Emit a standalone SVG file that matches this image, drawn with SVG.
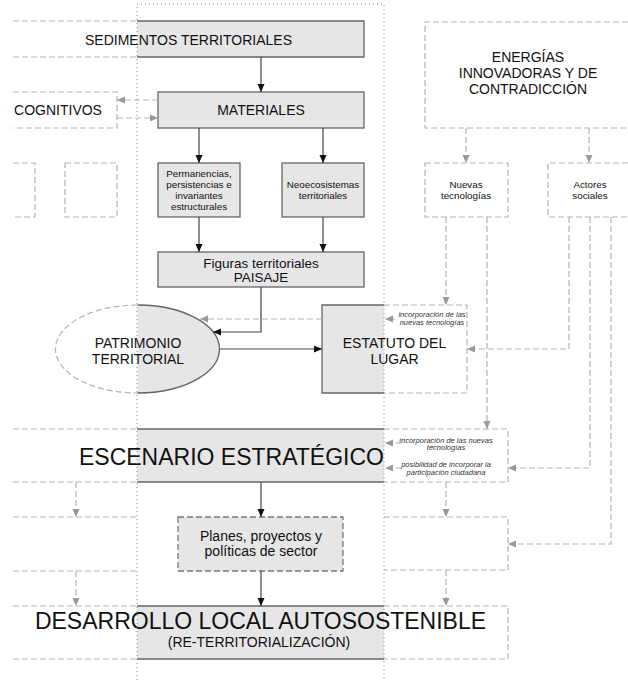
<svg xmlns="http://www.w3.org/2000/svg" width="628" height="680" viewBox="0 0 628 680">
<style>
text{font-family:"Liberation Sans",Arial,sans-serif;fill:#111;text-anchor:middle}
.g{fill:#e6e6e6;stroke:none}
.s{fill:none;stroke:#666;stroke-width:1.3}
.d{fill:none;stroke:#b3b3b3;stroke-width:1.2;stroke-dasharray:6,3}
.dd{fill:none;stroke:#777;stroke-width:1.3;stroke-dasharray:6,3}
.dot{fill:none;stroke:#888;stroke-width:1;stroke-dasharray:1,3}
.c{fill:none;stroke:#444;stroke-width:1.2}
.cd{fill:none;stroke:#b3b3b3;stroke-width:1.2;stroke-dasharray:6,3}
.sm{font-size:9.8px}
.it{font-size:7.5px;font-style:italic;fill:#333}
</style>
<defs>
<marker id="ab" markerWidth="9" markerHeight="8" refX="8" refY="4" orient="auto" markerUnits="userSpaceOnUse"><path d="M0,0.5 L8,4 L0,7.5 Z" fill="#111"/></marker>
<marker id="ag" markerWidth="9" markerHeight="8" refX="8" refY="4" orient="auto" markerUnits="userSpaceOnUse"><path d="M0,0.5 L8,4 L0,7.5 Z" fill="#999"/></marker>
</defs>

<g id="sedimentos">
<rect class="g" x="137" y="21" width="227" height="36"/>
<path class="s" d="M137,21 H364 V57 H137"/>
<path class="d" d="M13,21 H137 M13,57 H137"/>
<text x="188.5" y="45" font-size="14">SEDIMENTOS TERRITORIALES</text>
</g>

<g id="materiales">
<rect class="g" x="158" y="92" width="206" height="36"/>
<rect class="s" x="158" y="92" width="206" height="36"/>
<text x="261" y="115" font-size="14">MATERIALES</text>
</g>

<g id="cognitivos">
<path class="d" d="M13,92 H117 V128 H13"/>
<text x="58" y="115" font-size="14">COGNITIVOS</text>
</g>

<g id="energias">
<path class="d" d="M628,22 H425 V128 H628"/>
<text x="528" y="62" font-size="14">ENERGÍAS</text>
<text x="528" y="78" font-size="14">INNOVADORAS Y DE</text>
<text x="528" y="94" font-size="14">CONTRADICCIÓN</text>
</g>

<g id="left-box-1"><path class="d" d="M13,163 H35 V217 H13"/></g>
<g id="left-box-2"><rect class="d" x="65" y="163" width="52" height="54"/></g>

<g id="permanencias">
<rect class="g" x="158" y="163" width="82" height="54"/>
<rect class="s" x="158" y="163" width="82" height="54"/>
<text class="sm" x="199" y="176.5">Permanencias,</text>
<text class="sm" x="199" y="187.5">persistencias e</text>
<text class="sm" x="199" y="198.5">invariantes</text>
<text class="sm" x="199" y="209.5">estructurales</text>
</g>

<g id="neoecosistemas">
<rect class="g" x="282" y="163" width="82" height="54"/>
<rect class="s" x="282" y="163" width="82" height="54"/>
<text class="sm" x="323" y="187.5">Neoecosistemas</text>
<text class="sm" x="323" y="198.5">territoriales</text>
</g>

<g id="nuevas">
<rect class="d" x="425" y="163" width="83" height="54"/>
<text class="sm" x="466" y="187.5">Nuevas</text>
<text class="sm" x="466" y="198.5">tecnologías</text>
</g>

<g id="actores">
<path class="d" d="M628,163 H548 V217 H628"/>
<text class="sm" x="590" y="187.5">Actores</text>
<text class="sm" x="590" y="198.5">sociales</text>
</g>

<g id="figuras">
<rect class="g" x="158" y="252" width="206" height="35"/>
<rect class="s" x="158" y="252" width="206" height="35"/>
<text x="261" y="268" font-size="13.5">Figuras territoriales</text>
<text x="261" y="282" font-size="13.5">PAISAJE</text>
</g>

<g id="patrimonio">
<ellipse cx="137.5" cy="349" rx="82" ry="44" fill="#fff" stroke="#b3b3b3" stroke-width="1.2" stroke-dasharray="6,3"/>
<path class="g" d="M137.5,305 A82,44 0 0 1 137.5,393 Z"/>
<path class="s" d="M137.5,305 A82,44 0 0 1 137.5,393"/>
<text x="138" y="348" font-size="14">PATRIMONIO</text>
<text x="138" y="364" font-size="14">TERRITORIAL</text>
</g>

<g id="estatuto">
<path class="d" d="M384,305 H467 V393 H384"/>
<rect class="g" x="322" y="305" width="62" height="88"/>
<path class="s" d="M384,305 H322 V393 H384"/>
<text x="394.5" y="348" font-size="14">ESTATUTO DEL</text>
<text x="394.5" y="364" font-size="14">LUGAR</text>
<text class="it" x="432" y="317">incorporación de las</text>
<text class="it" x="432" y="325">nuevas tecnologías</text>
</g>

<g id="escenario">
<path class="d" d="M13,429 H137 M13,482 H137"/>
<path class="d" d="M384,429 H508 V482 H384"/>
<rect class="g" x="137" y="429" width="247" height="53"/>
<path class="s" d="M137,429 H384 M137,482 H384"/>
<text x="231.5" y="465" font-size="23">ESCENARIO ESTRATÉGICO</text>
<text class="it" x="446" y="442.5">incorporación de las nuevas</text>
<text class="it" x="446" y="450">tecnologías</text>
<text class="it" x="446" y="466.5">posibilidad de incorporar la</text>
<text class="it" x="446" y="474.5">participación ciudadana</text>
</g>

<g id="left-lower"><path class="d" d="M13,517 H137 M13,571 H137"/></g>

<g id="planes">
<rect class="g" x="178" y="517" width="165" height="54"/>
<rect class="dd" x="178" y="517" width="165" height="54"/>
<text x="261" y="541" font-size="14">Planes, proyectos y</text>
<text x="261" y="556" font-size="14">políticas de sector</text>
</g>

<g id="right-lower"><path class="d" d="M384,517 H508 V570 H384"/></g>

<g id="desarrollo">
<path class="d" d="M13,606 H137 M13,659 H137"/>
<path class="d" d="M384,606 H508 V659 H384"/>
<rect class="g" x="137" y="606" width="247" height="53"/>
<path class="s" d="M137,606 H384 M137,659 H384"/>
<text x="260.5" y="629" font-size="23">DESARROLLO LOCAL AUTOSOSTENIBLE</text>
<text x="259" y="647" font-size="14">(RE-TERRITORIALIZACIÓN)</text>
</g>

<g id="connectors">
<path class="c" marker-end="url(#ab)" d="M261,57 V92"/>
<path class="c" marker-end="url(#ab)" d="M199,128 V163"/>
<path class="c" marker-end="url(#ab)" d="M323,128 V163"/>
<path class="c" marker-end="url(#ab)" d="M199,217 V252"/>
<path class="c" marker-end="url(#ab)" d="M323,217 V252"/>
<path class="c" marker-end="url(#ab)" d="M261,287 V332 H213"/>
<path class="c" marker-end="url(#ab)" d="M220,349 H322"/>
<path class="c" marker-end="url(#ab)" d="M261,482 V517"/>
<path class="c" marker-end="url(#ab)" d="M261,571 V606"/>
<path class="cd" marker-end="url(#ag)" d="M158,100 H117"/>
<path class="cd" marker-end="url(#ag)" d="M117,118 H158"/>
<path class="cd" marker-end="url(#ag)" d="M466,128 V163"/>
<path class="cd" marker-end="url(#ag)" d="M589,128 V163"/>
<path class="cd" marker-end="url(#ag)" d="M446,217 V305"/>
<path class="cd" marker-end="url(#ag)" d="M487,217 V429"/>
<path class="cd" marker-end="url(#ag)" d="M569,217 V349 H467"/>
<path class="cd" marker-end="url(#ag)" d="M590,217 V468 H508"/>
<path class="cd" marker-end="url(#ag)" d="M611,217 V544 H508"/>
<path class="cd" marker-end="url(#ag)" d="M322,319 H200"/>
<path class="cd" marker-end="url(#ag)" d="M395,319 H385"/>
<path class="cd" marker-end="url(#ag)" d="M401,443 H385"/>
<path class="cd" marker-end="url(#ag)" d="M402,468 H385"/>
<path class="cd" marker-end="url(#ag)" d="M446,482 V517"/>
<path class="cd" marker-end="url(#ag)" d="M446,570 V606"/>
<path class="cd" marker-end="url(#ag)" d="M76,482 V517"/>
<path class="cd" marker-end="url(#ag)" d="M76,571 V606"/>
</g>

<g id="dotted-frame">
<path class="dot" d="M137,680 V4 H384 V680"/>
</g>
</svg>
